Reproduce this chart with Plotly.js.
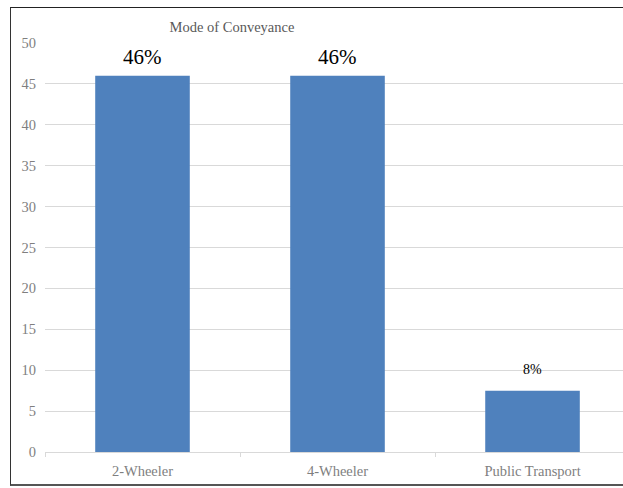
<!DOCTYPE html>
<html>
<head>
<meta charset="utf-8">
<script src="https://cdn.plot.ly/plotly-3.0.1.min.js"></script>
<style>
html,body{margin:0;padding:0;background:#fff;overflow:hidden;}
#wrap{position:relative;width:623px;height:488px;}
#chart{position:absolute;left:0;top:0;width:623px;height:488px;}
#frame{position:absolute;left:10px;top:7px;width:640px;height:476px;border-left:1px solid #333;border-top:1.5px solid #222;border-bottom:2px solid #555;pointer-events:none;}
</style>
</head>
<body>
<div id="wrap"><div id="chart"></div><div id="frame"></div></div>
<script>
var categories = ["2-Wheeler", "4-Wheeler", "Public Transport"];
var values = [46, 46, 7.5];
var labels = ["46%", "46%", "8%"];
var labelSizes = [21, 21, 14];
var labelShifts = [5, 5, 12];

var serif = "Liberation Serif, DejaVu Serif, serif";

var trace = {
  type: "bar",
  x: categories,
  y: values,
  marker: {color: "#4f81bd"},
  width: 0.485,
  hoverinfo: "none"
};

var annotations = categories.map(function(c, i){
  return {
    x: c, y: values[i], xref: "x", yref: "y",
    text: labels[i], showarrow: false, yanchor: "bottom",
    yshift: labelShifts[i],
    font: {family: serif, size: labelSizes[i], color: "#000"}
  };
});

var layout = {
  width: 623, height: 488,
  margin: {l: 45, r: 0, t: 43, b: 36},
  paper_bgcolor: "#fff", plot_bgcolor: "#fff",
  showlegend: false,
  font: {family: serif},
  title: {
    text: "Mode of Conveyance",
    font: {family: serif, size: 14.5, color: "#595959"},
    x: 232/623, xref: "container", xanchor: "center",
    y: 1 - 27/488, yref: "container", yanchor: "middle"
  },
  xaxis: {
    type: "category",
    range: [-0.5, 2.464],
    tickson: "boundaries",
    ticks: "outside", ticklen: 4, tickcolor: "#d9d9d9",
    showline: true, linecolor: "#d9d9d9", linewidth: 1,
    showgrid: false,
    ticklabelstandoff: 6,
    tickfont: {family: serif, size: 14.5, color: "#7f7f7f"},
    fixedrange: true
  },
  yaxis: {
    range: [0, 50],
    dtick: 5,
    showgrid: true, gridcolor: "#d9d9d9", gridwidth: 1,
    zeroline: false,
    showline: false,
    ticks: "",
    ticklabelstandoff: 8,
    tickfont: {family: serif, size: 14.5, color: "#7f7f7f"},
    fixedrange: true
  },
  annotations: annotations
};

Plotly.newPlot("chart", [trace], layout, {displayModeBar: false, staticPlot: true});
</script>
</body>
</html>
